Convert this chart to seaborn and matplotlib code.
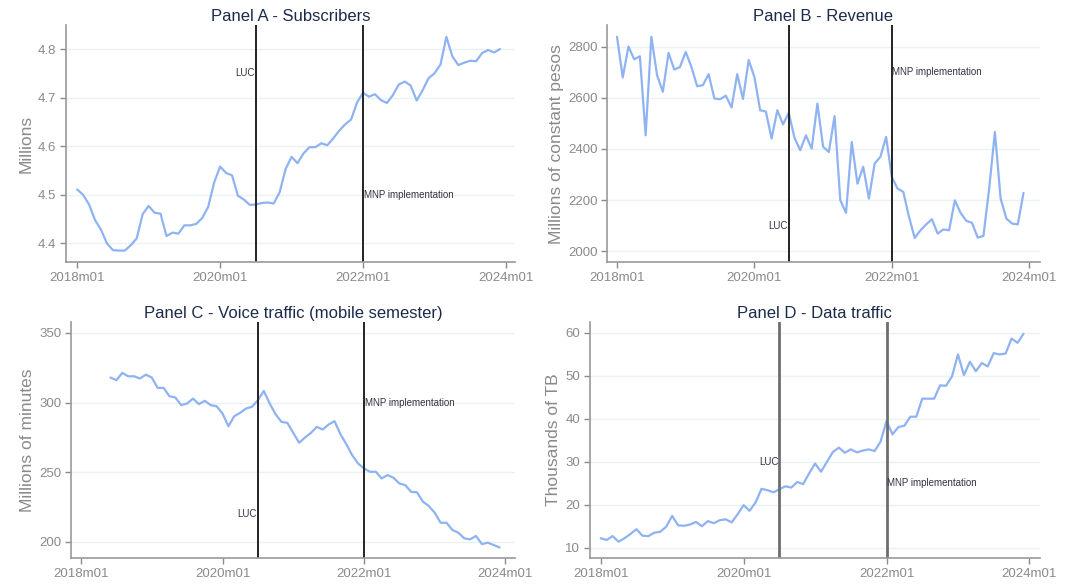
import numpy as np
import pandas as pd
import matplotlib
matplotlib.use("Agg")
import matplotlib.pyplot as plt
import seaborn as sns

# ---- data (month index 0 = 2018m01) ----
subscribers = [4.511, 4.500, 4.480, 4.448, 4.428, 4.400, 4.386, 4.385, 4.385, 4.396,
               4.410, 4.460, 4.477, 4.463, 4.461, 4.415, 4.422, 4.420, 4.437, 4.437,
               4.440, 4.452, 4.475, 4.525, 4.558, 4.545, 4.540, 4.498, 4.490, 4.479,
               4.480, 4.483, 4.484, 4.482, 4.505, 4.553, 4.578, 4.565, 4.585, 4.598,
               4.598, 4.606, 4.602, 4.616, 4.632, 4.645, 4.655, 4.690, 4.710, 4.702,
               4.707, 4.695, 4.689, 4.705, 4.727, 4.733, 4.725, 4.694, 4.715, 4.740,
               4.750, 4.768, 4.825, 4.785, 4.767, 4.772, 4.776, 4.775, 4.792, 4.798,
               4.793, 4.800]
revenue = [2838, 2679, 2800, 2750, 2762, 2453, 2838, 2688, 2623, 2775,
           2710, 2720, 2779, 2720, 2645, 2649, 2692, 2597, 2594, 2608,
           2562, 2692, 2595, 2747, 2681, 2551, 2546, 2440, 2551, 2496,
           2541, 2443, 2395, 2453, 2401, 2577, 2408, 2388, 2528, 2199,
           2150, 2427, 2264, 2330, 2206, 2343, 2369, 2447, 2290, 2245,
           2232, 2134, 2052, 2082, 2105, 2125, 2069, 2085, 2082, 2199,
           2150, 2119, 2111, 2053, 2060, 2245, 2466, 2206, 2128, 2108,
           2105, 2228]
voice_start = 5
voice = [318.0, 316.1, 321.3, 318.9, 318.9, 317.3, 320.1, 318.0, 310.6, 310.6,
         304.6, 303.7, 298.2, 299.4, 302.9, 298.9, 301.3, 298.2, 297.4, 292.2,
         283.1, 290.3, 292.7, 295.8, 297.0, 301.7, 308.4, 299.4, 291.7, 286.2,
         285.5, 278.3, 271.2, 275.0, 278.3, 282.6, 280.7, 284.3, 286.7, 277.4,
         270.2, 262.3, 256.3, 252.8, 250.4, 250.4, 245.6, 248.0, 246.1, 242.0,
         240.8, 236.0, 235.6, 228.9, 225.8, 221.0, 213.8, 213.8, 208.6, 206.7,
         202.6, 201.9, 204.3, 198.5, 199.5, 197.8, 196.1]
data_traffic = [12.2, 11.8, 12.7, 11.4, 12.2, 13.2, 14.3, 12.8, 12.7, 13.5,
                13.7, 14.9, 17.4, 15.2, 15.1, 15.4, 16.0, 15.0, 16.2, 15.7,
                16.4, 16.6, 15.9, 17.8, 19.9, 18.6, 20.5, 23.7, 23.4, 22.9,
                23.6, 24.3, 24.0, 25.3, 24.8, 27.3, 29.6, 27.7, 30.0, 32.3,
                33.3, 32.1, 32.9, 32.2, 32.6, 32.9, 32.5, 34.7, 39.5, 36.4,
                38.1, 38.4, 40.5, 40.5, 44.7, 44.7, 44.7, 47.8, 47.7, 49.9,
                55.0, 50.2, 53.3, 51.1, 53.0, 52.2, 55.3, 55.0, 55.2, 58.7,
                57.7, 59.8]

xtick_pos = [0, 24, 48, 72]
xtick_labels = ["2018m01", "2020m01", "2022m01", "2024m01"]
luc_month = 30   # 2020m07
mnp_month = 48   # 2022m01

titles = ["Panel A - Subscribers", "Panel B - Revenue",
          "Panel C - Voice traffic (mobile semester)", "Panel D - Data traffic"]
ylabels = ["Millions", "Millions of constant pesos", "Millions of minutes", "Thousands of TB"]

sns.set_theme(style="white")
plt.rcParams["font.family"] = ["Liberation Sans", "DejaVu Sans"]

fig = plt.figure(figsize=(10.84, 5.88), dpi=100)

LINE_C = "#8fb3f2"
GRAY = "#8a8a8a"
TITLE_C = "#1c2a4a"

panels = [
    dict(rect=[0.061, 0.554, 0.414, 0.403], y=subscribers, start=0,
         xlim=(-1.85, 73.5), ylim=(4.361, 4.849), yticks=[4.4, 4.5, 4.6, 4.7, 4.8],
         yfmt="{:.1f}", luc_y=4.75, mnp_y=4.5, vcol="#222222", vlw=1.4),
    dict(rect=[0.560, 0.554, 0.399, 0.403], y=revenue, start=0,
         xlim=(-1.74, 73.8), ylim=(1957, 2883), yticks=[2000, 2200, 2400, 2600, 2800],
         yfmt="{:.0f}", luc_y=2100, mnp_y=2700, vcol="#222222", vlw=1.4),
    dict(rect=[0.0655, 0.051, 0.4095, 0.401], y=voice, start=voice_start,
         xlim=(-1.7, 73.6), ylim=(188.5, 357.7), yticks=[200, 250, 300, 350],
         yfmt="{:.0f}", luc_y=220, mnp_y=300, vcol="#222222", vlw=1.4),
    dict(rect=[0.544, 0.051, 0.415, 0.401], y=data_traffic, start=0,
         xlim=(-1.85, 73.7), ylim=(7.6, 62.5), yticks=[10, 20, 30, 40, 50, 60],
         yfmt="{:.0f}", luc_y=30, mnp_y=25, vcol="#6e6e6e", vlw=2.0),
]

for i, p in enumerate(panels):
    ax = fig.add_axes(p["rect"])
    df = pd.DataFrame({"month": np.arange(p["start"], p["start"] + len(p["y"])),
                       "value": p["y"]})
    sns.lineplot(data=df, x="month", y="value", ax=ax, color=LINE_C, linewidth=1.6)
    ax.set_xlim(*p["xlim"])
    ax.set_ylim(*p["ylim"])
    ax.set_xticks(xtick_pos)
    ax.set_xticklabels(xtick_labels)
    ax.set_yticks(p["yticks"])
    ax.set_yticklabels([p["yfmt"].format(v) for v in p["yticks"]])
    ax.yaxis.grid(True, color="#eaf2f2", linewidth=1.0)
    ax.xaxis.grid(False)
    ax.set_axisbelow(True)
    for s in ["top", "right"]:
        ax.spines[s].set_visible(False)
    for s in ["left", "bottom"]:
        ax.spines[s].set_color("#999999")
        ax.spines[s].set_linewidth(1.2)
    ax.tick_params(axis="both", colors=GRAY, labelsize=9.5, length=4, width=1,
                   direction="out", bottom=True, left=True, pad=3)
    ax.set_xlabel("")
    ax.set_ylabel(ylabels[i], color=GRAY, fontsize=12.5, labelpad=3)
    ax.set_title(titles[i], color=TITLE_C, fontsize=12, pad=3)
    ax.axvline(luc_month, color=p["vcol"], linewidth=p["vlw"])
    ax.axvline(mnp_month, color=p["vcol"], linewidth=p["vlw"])
    ax.text(luc_month - 0.2, p["luc_y"], "LUC", ha="right", va="center",
            fontsize=7, color="#333344")
    ax.text(mnp_month + 0.1, p["mnp_y"], "MNP implementation", ha="left", va="center",
            fontsize=7, color="#333344")

fig.savefig("out.png", dpi=100)
